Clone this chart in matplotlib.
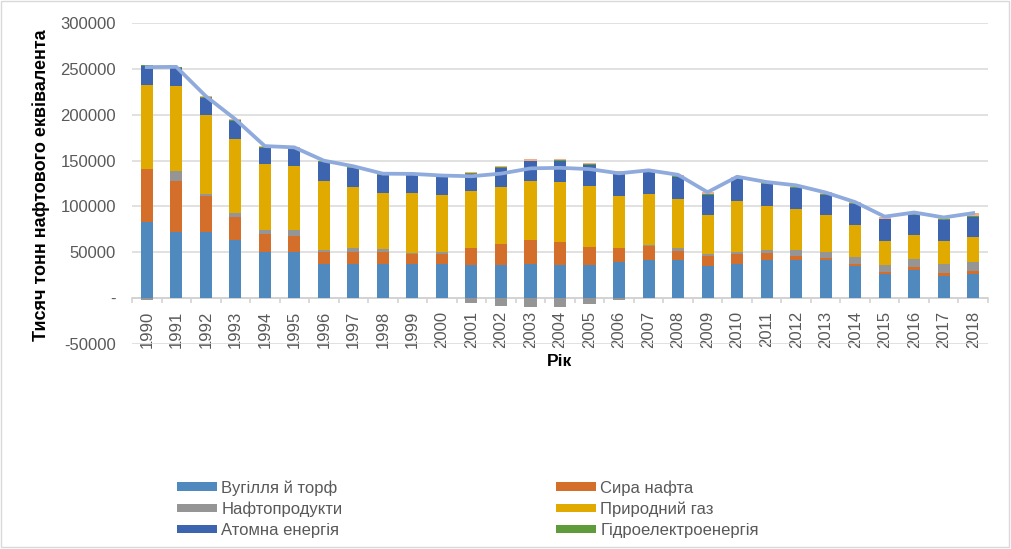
import numpy as np
import matplotlib
matplotlib.use("Agg")
import matplotlib.pyplot as plt
from matplotlib.patches import Patch, Rectangle
from matplotlib.ticker import FixedLocator, FuncFormatter

plt.rcParams['font.family'] = ['Liberation Sans', 'DejaVu Sans']

years = list(range(1990, 2019))

# тис. т н.е.
coal = [82800, 72600, 71900, 63900, 50700, 50000, 37600, 36900, 37600, 37400,
        37400, 36600, 36600, 37400, 36600, 36600, 39000, 41900, 41200, 35300,
        37500, 41200, 41900, 41200, 34600, 26300, 30700, 24000, 26200]
crude = [57700, 54800, 39400, 24100, 19700, 17500, 13100, 13100, 13100, 11000,
         10200, 17600, 22700, 26300, 24900, 19400, 16100, 14700, 10300, 11000,
         11000, 8400, 4400, 2900, 2900, 2500, 3500, 3700, 3700]
oil_products = [-2500, 10900, 2200, 4300, 4400, 7300, 2200, 5100, 3300, 1100,
                2200, -5000, -8500, -9800, -9500, -6200, -2000, 1000, 3300, 2200,
                2200, 3300, 6600, 6600, 7700, 7700, 9000, 9900, 10000]
gas = [92000, 93000, 86100, 81100, 71200, 69400, 74500, 65700, 60200, 64800,
       62300, 62300, 61600, 63800, 64900, 66000, 56700, 56400, 53000, 41900,
       55200, 47500, 44200, 39700, 34200, 26300, 25200, 24400, 26500]
nuclear = [20100, 19300, 19000, 20000, 18200, 18600, 21100, 21500, 19700, 19800,
           20100, 19400, 21200, 21600, 23100, 22700, 23700, 23500, 24600, 22100,
           23900, 24600, 23500, 22100, 23200, 23000, 22100, 23600, 22200]
hydro = [1100, 900, 900, 1000, 900, 900, 800, 900, 1300, 900,
         1000, 1000, 800, 800, 1000, 1100, 1100, 900, 1000, 1000,
         1100, 900, 900, 1200, 1000, 600, 700, 900, 900]
other = [700, 700, 700, 700, 700, 700, 600, 600, 500, 500,
         500, 1000, 1400, 1400, 1100, 1100, 1500, 1000, 1100, 2000,
         1500, 700, 1500, 1500, 1100, 2500, 2200, 1500, 3200]

names = ['Вугілля й торф', 'Сира нафта', 'Нафтопродукти', 'Природний газ',
         'Атомна енергія', 'Гідроелектроенергія']
colors = ['#4F89BD', '#D46E2B', '#959595', '#E0AA00', '#3D64AE', '#5F9B3A', '#F2AE86']
series = [coal, crude, oil_products, gas, nuclear, hydro, other]

W, H = 1011, 549
fig = plt.figure(figsize=(W / 100, H / 100), dpi=100)
ax = fig.add_axes([132 / W, 1 - 344 / H, (988 - 132) / W, (344 - 23) / H])

x = np.arange(len(years))
pos = np.zeros(len(years))
neg = np.zeros(len(years))
for vals, c in zip(series, colors):
    v = np.array(vals, dtype=float)
    bottom = np.where(v >= 0, pos, neg)
    ax.bar(x, v, 0.41, bottom=bottom, color=c, linewidth=0, zorder=2)
    pos += np.clip(v, 0, None)
    neg += np.clip(v, None, 0)

total = np.sum(np.array(series, dtype=float), axis=0)
ax.plot(x, total, color='#8FAADC', lw=2.7, zorder=3, solid_joinstyle='round')

ax.set_xlim(-0.5, len(years) - 0.5)
ax.set_ylim(-50000, 300000)
ax.set_yticks(np.arange(-50000, 300001, 50000))
ax.yaxis.set_major_formatter(FuncFormatter(lambda v, p: '-' if v == 0 else '%d' % v))
ax.yaxis.grid(True, color='#D9D9D9', lw=1.1, zorder=0)
ax.set_axisbelow(True)

for s in ['left', 'right', 'top']:
    ax.spines[s].set_visible(False)
ax.spines['bottom'].set_position(('data', 0))
ax.spines['bottom'].set_color('#D0D0D0')
ax.spines['bottom'].set_linewidth(1.1)
ax.spines['bottom'].set_zorder(1)

ax.set_xticks(x)
ax.set_xticklabels([str(y) for y in years], rotation=90)
ax.xaxis.set_minor_locator(FixedLocator(np.arange(-0.5, len(years), 1)))
ax.tick_params(axis='x', which='major', length=0, pad=9, labelsize=12, labelcolor='#595959')
ax.tick_params(axis='x', which='minor', length=3.5, width=1.1, color='#D0D0D0', direction='out')
ax.tick_params(axis='y', length=0, pad=11.5, labelsize=12, labelcolor='#595959')

fig.text(41 / W, 1 - 185 / H, 'Тисяч тонн нафтового еквівалента', rotation=90,
         ha='center', va='center', fontsize=13, fontweight='bold', color='black')
fig.text(560 / W, 1 - 361 / H, 'Рік', ha='center', va='center',
         fontsize=12.5, fontweight='bold', color='black')

handles = [Patch(facecolor=c, edgecolor='none') for c in colors[:6]]
leg_kw = dict(loc='upper left', frameon=False, fontsize=12, borderpad=0, borderaxespad=0,
              handlelength=2.4, handleheight=0.42, handletextpad=0.25, labelspacing=0.36,
              labelcolor='#595959')
fig.legend([handles[0], handles[2], handles[4]], [names[0], names[2], names[4]],
           bbox_to_anchor=(177 / W, 1 - 480 / H), **leg_kw)
fig.legend([handles[1], handles[3], handles[5]], [names[1], names[3], names[5]],
           bbox_to_anchor=(556 / W, 1 - 480 / H), **leg_kw)

fig.patches.append(Rectangle((1 / W, 2 / H), (W - 3) / W, (H - 3) / H, transform=fig.transFigure,
                             fill=False, edgecolor='#D9D9D9', lw=1.0))

fig.savefig('out.png', dpi=100)
